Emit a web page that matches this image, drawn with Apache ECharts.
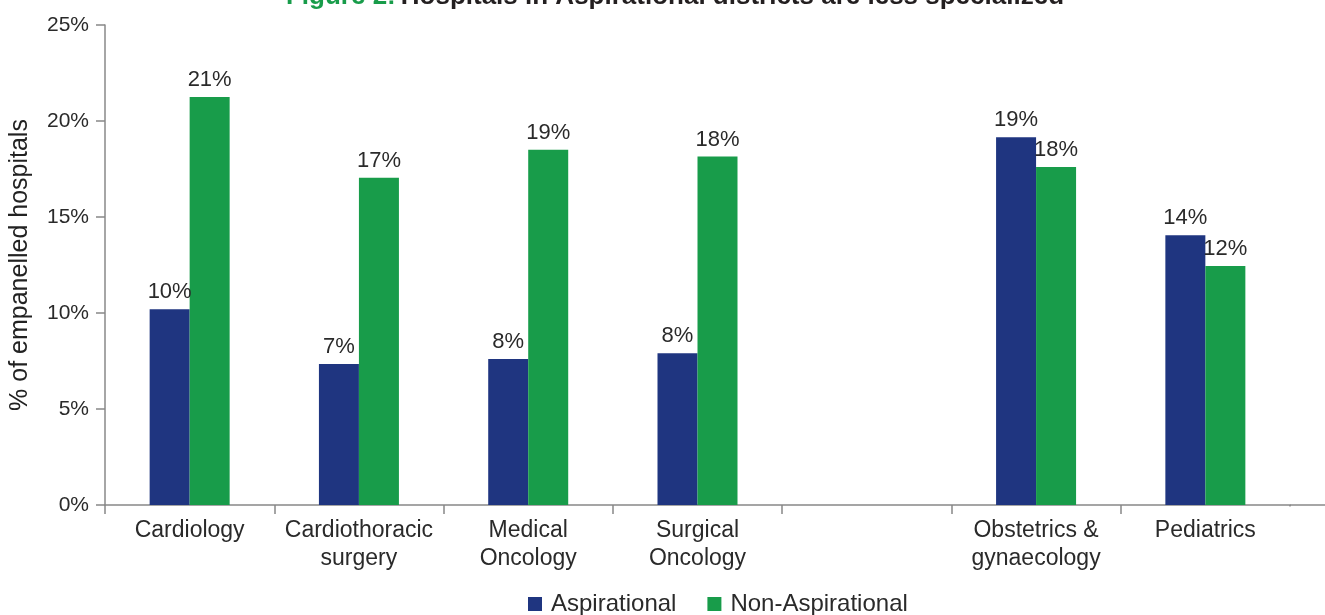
<!DOCTYPE html>
<html>
<head>
<meta charset="utf-8">
<script src="https://cdn.jsdelivr.net/npm/echarts@6/dist/echarts.min.js"></script>
<style>
html,body{margin:0;padding:0;background:#fff;}
#chart{width:1325px;height:615px;}
</style>
</head>
<body>
<div id="chart"></div>
<script>
const categories = ['Cardiology', 'Cardiothoracic\nsurgery', 'Medical\nOncology', 'Surgical\nOncology', '', 'Obstetrics &\ngynaecology', 'Pediatrics'];
const aspirational = [10.2, 7.35, 7.6, 7.9, null, 19.15, 14.05];
const nonAspirational = [21.25, 17.05, 18.5, 18.15, null, 17.6, 12.45];
const yTicks = [0, 5, 10, 15, 20, 25];
const seriesNames = ['Aspirational', 'Non-Aspirational'];
const colors = ['#1F3580', '#189C4A'];

const chart = echarts.init(document.getElementById('chart'), null, {renderer: 'canvas'});
const font = 'Liberation Sans, Arial, sans-serif';
const narrow = 'Liberation Sans Narrow, Arial Narrow, sans-serif';
const labelCfg = {
  show: true, position: 'top', distance: 6,
  formatter: p => Math.round(p.value) + '%',
  color: '#2a2a2a', fontSize: 22, fontFamily: font
};
chart.setOption({
  animation: false,
  title: {
    text: '{g|Figure 2:} {b|Hospitals in Aspirational districts are less specialized}',
    left: 670, top: -21, textAlign: 'center',
    textStyle: {
      rich: {
        g: {color: '#189C4A', fontSize: 26, fontWeight: 'bold', fontFamily: narrow},
        b: {color: '#231F20', fontSize: 26, fontWeight: 'bold', fontFamily: narrow}
      }
    }
  },
  legend: {
    data: seriesNames, bottom: -6, left: 523,
    itemWidth: 14, itemHeight: 14, itemGap: 31, icon: 'rect',
    textStyle: {fontSize: 24, color: '#2a2a2a', fontFamily: font, padding: [0, 0, 0, 4]}
  },
  grid: {left: 105, right: 35, top: 25, bottom: 110, containLabel: false},
  xAxis: {
    type: 'category', data: categories,
    axisLine: {lineStyle: {color: '#888', width: 1.5}},
    axisTick: {show: true, alignWithLabel: false, length: 9, lineStyle: {color: '#888', width: 1.5}},
    axisLabel: {fontSize: 23, color: '#2a2a2a', fontFamily: font, lineHeight: 28, margin: 12, interval: 0}
  },
  yAxis: {
    type: 'value', min: 0, max: 25, interval: 5,
    name: '% of empanelled hospitals', nameLocation: 'middle', nameGap: 72, nameRotate: 90,
    nameTextStyle: {fontSize: 25, color: '#222', fontFamily: font},
    axisLine: {show: true, lineStyle: {color: '#888', width: 1.5}},
    axisTick: {show: true, length: 9, lineStyle: {color: '#888', width: 1.5}},
    splitLine: {show: false},
    axisLabel: {formatter: v => yTicks.includes(v) ? v + '%' : '', fontSize: 21, color: '#2a2a2a', fontFamily: font, margin: 16}
  },
  graphic: [
    {type: 'line', shape: {x1: 1290, y1: 505, x2: 1325, y2: 505}, style: {stroke: '#888', lineWidth: 1.5}},
    {type: 'rect', shape: {x: 1287, y: 506.5, width: 6, height: 10}, style: {fill: '#fff'}, z: 100}
  ],
  series: [
    {name: seriesNames[0], type: 'bar', data: aspirational, barWidth: 40, barGap: '0%', itemStyle: {color: colors[0]}, label: labelCfg},
    {name: seriesNames[1], type: 'bar', data: nonAspirational, barWidth: 40, barGap: '0%', itemStyle: {color: colors[1]}, label: labelCfg}
  ]
});
</script>
</body>
</html>
